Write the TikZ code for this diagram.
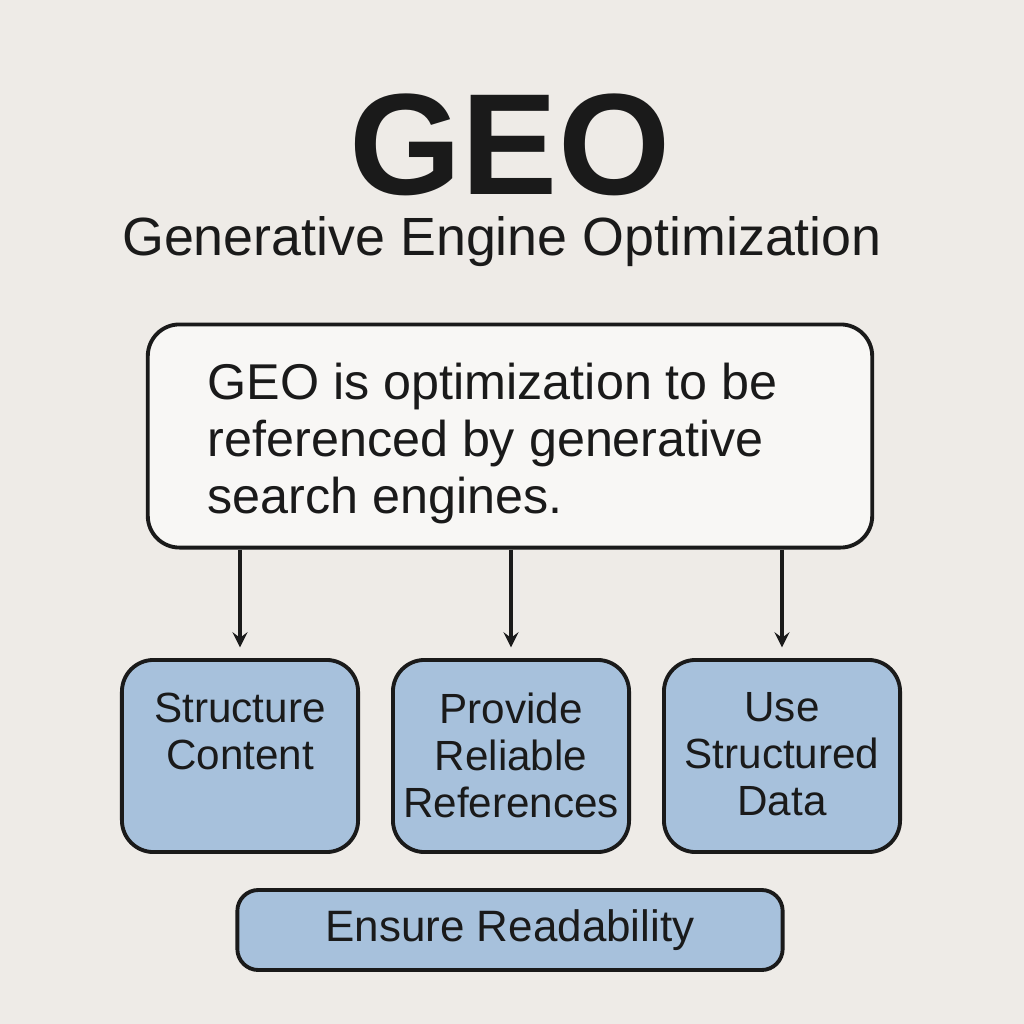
\documentclass[tikz,border=0pt]{standalone}
\usepackage{fontspec}
\setmainfont{Liberation Sans}
\usetikzlibrary{positioning}
\definecolor{paper}{HTML}{EEEBE7}
\definecolor{boxblue}{HTML}{A7C1DC}
\definecolor{ink}{HTML}{1A1A1A}
\tikzset{
  stepbox/.style={draw=ink,line width=1.1pt,rounded corners=9pt,fill=boxblue,minimum width=2.36cm,minimum height=1.92cm},
  steptext/.style={anchor=north,align=center,font=\fontsize{12}{13.4}\selectfont,text=ink,inner sep=0pt},
  flow/.style={->,>=stealth,line width=0.9pt,draw=ink}
}
\begin{document}
\begin{tikzpicture}[x=0.01cm,y=-0.01cm]
    \fill[paper] (0,0) rectangle (1024,1024);
    \useasboundingbox (0,0) rectangle (1024,1024);

    \node[text=ink,inner sep=0pt,font=\fontsize{41}{41}\selectfont\bfseries] (title) at (510,145) {GEO};
    \node[text=ink,inner sep=0pt,font=\fontsize{15.3}{15.3}\selectfont] (sub) at (502,242) {Generative Engine Optimization};

    \node[draw=ink,line width=1.1pt,rounded corners=9pt,fill=white!60!paper,minimum width=7.24cm,minimum height=2.23cm] (def) at (510,436) {};
    \node[anchor=north west,align=left,inner sep=0pt,text=ink,font=\fontsize{14.3}{16.2}\selectfont] (deftext) at (207,362)
        {GEO is optimization to be\\referenced by generative\\search engines.};

    \node[stepbox] (sc) at (240,756) {};
    \node[stepbox] (pr) at (511,756) {};
    \node[stepbox] (sd) at (782,756) {};
    \node[steptext] at (240,692) {Structure\\Content};
    \node[steptext] at (511,692) {Provide\\Reliable\\References};
    \node[steptext] at (782,692) {Use\\Structured\\Data};

    \node[stepbox,minimum width=5.45cm,minimum height=0.8cm,rounded corners=6pt,font=\fontsize{12.5}{13}\selectfont,text=ink] (er) at (510,930) {Ensure Readability};

    \draw[flow] (def.south -| sc) -- ([yshift=3pt]sc.north);
    \draw[flow] (def.south -| pr) -- ([yshift=3pt]pr.north);
    \draw[flow] (def.south -| sd) -- ([yshift=3pt]sd.north);
\end{tikzpicture}
\end{document}
